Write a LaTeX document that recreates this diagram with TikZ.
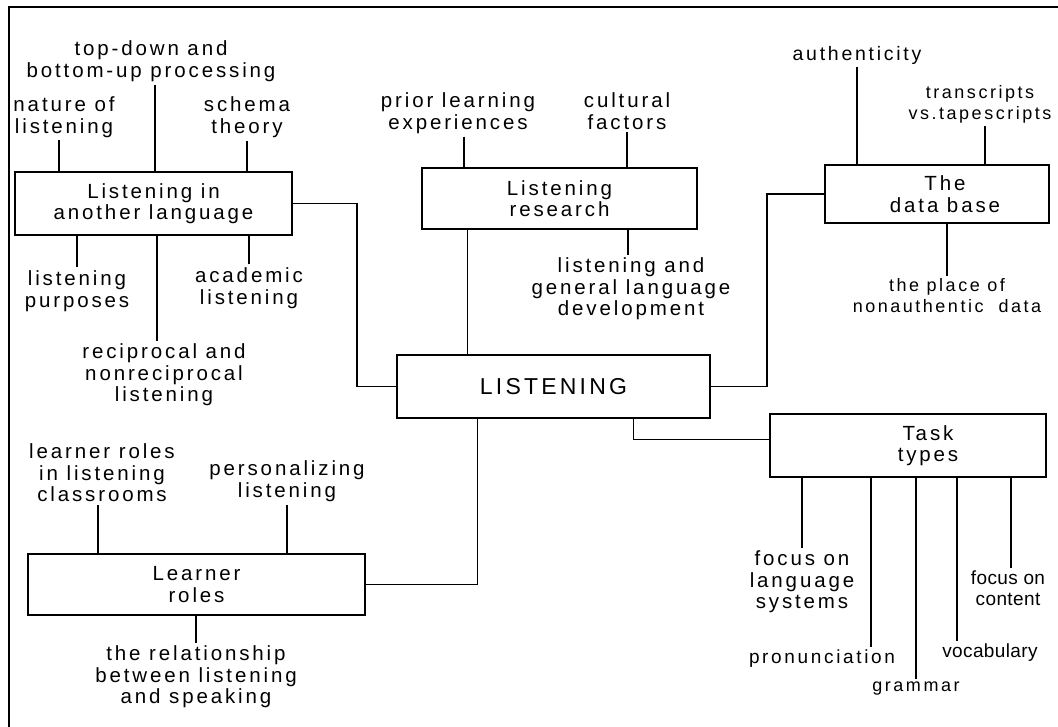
\documentclass[tikz,border=0pt]{standalone}
\usepackage{fontspec}
\setmainfont[LetterSpace=14]{Liberation Sans}
\newfontfamily\tightsans[LetterSpace=2]{Liberation Sans}
\usepackage{tikz}

\begin{document}
\begin{tikzpicture}[
        x=1pt, y=-1pt,
        box/.style={rectangle, draw, line width=1.2pt, align=center, inner sep=0pt, font=\fontsize{20.5}{21.5}\selectfont},
        leaf/.style={align=center, inner sep=3pt, font=\fontsize{20.5}{21.5}\selectfont},
        smleaf/.style={leaf, font=\fontsize{18}{21}\selectfont},
        tightleaf/.style={leaf, font=\tightsans\fontsize{19}{20.5}\selectfont},
        conn/.style={line width=1.8pt},
        pageedge/.style={line width=2.6pt}
    ]
        \useasboundingbox (0,0) rectangle (1058,727);
        \draw[pageedge] (9,727) -- (9,7) -- (1058,7);

        % Boxes
        \node[box, minimum width=313pt, minimum height=63pt, font=\fontsize{23}{24}\selectfont] (listen) at (553.5,386.5) {LISTENING};
        \node[box, minimum width=277pt, minimum height=63pt] (lia) at (153.5,203.5) {Listening in\\another language};
        \node[box, minimum width=275pt, minimum height=61pt] (research) at (559.5,198.5) {Listening\\research};
        \node[box, minimum width=224pt, minimum height=58pt] (dbase) at (937,194) {\hspace*{16pt}The\\\hspace*{16pt}data base};
        \node[box, minimum width=276pt, minimum height=63pt] (task) at (908,445.5) {\hspace*{40pt}Task\\\hspace*{40pt}types};
        \node[box, minimum width=337pt, minimum height=61pt] (learner) at (196.5,584.5) {Learner\\roles};

        % Listening in another language
        \node[leaf] (natlis) at (64,117) {nature of\\listening};
        \node[leaf] (topdown) at (151,61) {top-down and\\bottom-up processing};
        \node[leaf] (schema) at (247,117) {schema\\theory};
        \node[leaf] (purpose) at (77,291) {listening\\purposes};
        \node[leaf] (recip) at (164,375) {reciprocal and\\nonreciprocal\\listening};
        \node[leaf] (academic) at (249,288) {academic\\listening};

        % Listening research
        \node[leaf] (prior) at (458,113) {prior learning\\experiences};
        \node[leaf] (cultural) at (627,111) {cultural\\factors};
        \node[leaf] (lgld) at (631,289) {listening and\\general language\\development};

        % The data base
        \node[leaf, font=\fontsize{19.5}{21}\selectfont] (authentic) at (857,55) {authenticity};
        \node[smleaf] (transcr) at (980,104) {transcripts\\vs.tapescripts};
        \node[smleaf] (place) at (947,296) {the place of\\nonauthentic\ \ data};

        % Task types
        \node[leaf] (focuslang) at (802,582) {focus on\\language\\systems};
        \node[leaf, font=\fontsize{19}{21}\selectfont] (pron) at (822,659) {pronunciation};
        \node[smleaf] (grammar) at (916,689) {grammar};
        \node[tightleaf] (vocab) at (990,653) {vocabulary};
        \node[tightleaf] (focuscont) at (1008,588) {focus on\\content};

        % Learner roles
        \node[leaf] (lrlc) at (102,473) {learner roles\\in listening\\classrooms};
        \node[leaf] (personal) at (287,481) {personalizing\\listening};
        \node[leaf] (relation) at (196,677) {the relationship\\between listening\\and speaking};

        % Links to the centre
        \draw[conn] (lia.east) -- ++(64,0) |- (listen.west);
        \draw[conn] ([xshift=-92pt]research.south) -- ([xshift=-92pt]research.south |- listen.north);
        \draw[conn] (listen.east) -- ++(56,0) |- (dbase.west);
        \draw[conn] ([xshift=80pt]listen.south) |- ([yshift=6pt]task.west);
        \draw[conn] ([xshift=-76pt]listen.south) |- (learner.east);

        % Leaves
        \draw[conn] ([xshift=-5pt]natlis.south) -- ([xshift=-5pt]natlis.south |- lia.north);
        \draw[conn] ([xshift=4pt]topdown.south) -- ([xshift=4pt]topdown.south |- lia.north);
        \draw[conn] (schema) -- (schema |- lia.north);
        \draw[conn] (purpose) -- (purpose |- lia.south);
        \draw[conn] ([xshift=-7pt]recip.north) -- ([xshift=-7pt]recip.north |- lia.south);
        \draw[conn] (academic) -- (academic |- lia.south);

        \draw[conn] ([xshift=6pt]prior.south) -- ([xshift=6pt]prior.south |- research.north);
        \draw[conn] (cultural) -- (cultural |- research.north);
        \draw[conn] ([xshift=-3pt]lgld.north) -- ([xshift=-3pt]lgld.north |- research.south);

        \draw[conn] (authentic) -- (authentic |- dbase.north);
        \draw[conn] ([xshift=5pt]transcr.south) -- ([xshift=5pt]transcr.south |- dbase.north);
        \draw[conn] (place) -- (place |- dbase.south);

        \draw[conn] (focuslang) -- (focuslang |- task.south);
        \draw[conn] ([xshift=49pt]pron.north) -- ([xshift=49pt]pron.north |- task.south);
        \draw[conn] (grammar) -- (grammar |- task.south);
        \draw[conn] ([xshift=-33pt]vocab.north) -- ([xshift=-33pt]vocab.north |- task.south);
        \draw[conn] ([xshift=3pt]focuscont.north) -- ([xshift=3pt]focuscont.north |- task.south);

        \draw[conn] ([xshift=-4pt]lrlc.south) -- ([xshift=-4pt]lrlc.south |- learner.north);
        \draw[conn] (personal) -- (personal |- learner.north);
        \draw[conn] (relation) -- (relation |- learner.south);
    \end{tikzpicture}
\end{document}
